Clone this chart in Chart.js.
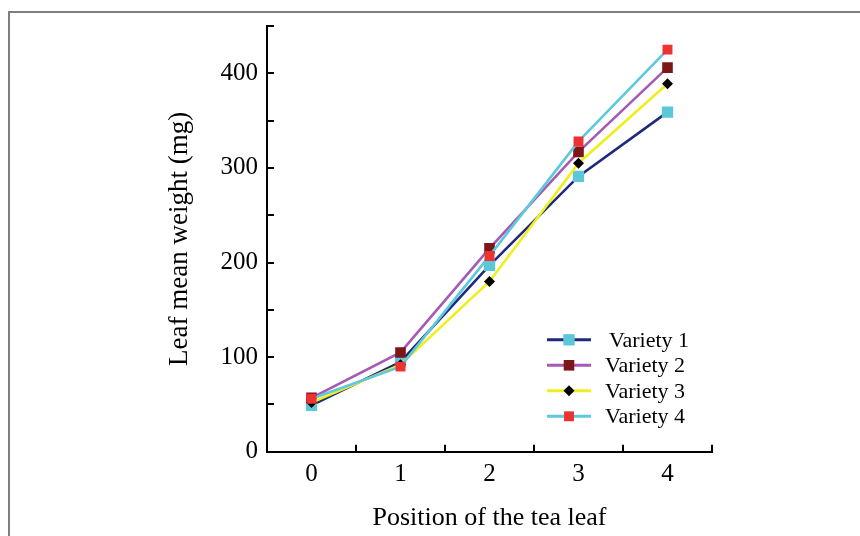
<!DOCTYPE html>
<html>
<head>
<meta charset="utf-8">
<script src="https://cdn.jsdelivr.net/npm/chart.js@4.4.0/dist/chart.umd.min.js"></script>
<style>
  html, body { margin: 0; padding: 0; background: #fff; }
  #wrap { position: relative; width: 860px; height: 536px; }
  #wrap canvas { position: absolute; left: 0; top: 0; }
  #frame {
    position: absolute; left: 8px; top: 11px; right: 0; bottom: 0;
    border-top: 2px solid #7f7f7f; border-left: 2px solid #7f7f7f;
    pointer-events: none;
  }
</style>
</head>
<body>
<div id="wrap">
  <canvas id="leafChart" width="860" height="536"></canvas>
  <div id="frame"></div>
</div>
<script>
// --- data ---
const positions = ['0', '1', '2', '3', '4'];
const seriesNames = ['Variety 1', 'Variety 2', 'Variety 3', 'Variety 4'];
const variety1 = [49, 95, 197, 291, 359];
const variety2 = [57, 105, 215, 317, 406];
const variety3 = [52, 92, 180, 305, 389];
const variety4 = [56, 90, 207, 328, 425];
const yLabeled = [0, 100, 200, 300, 400];

const serif = "'Liberation Serif', 'DejaVu Serif', serif";

// ticks pointing into the plot, like the original
const innerTicks = {
  id: 'innerTicks',
  afterDraw(chart) {
    const { ctx, scales: { x, y } } = chart;
    ctx.save();
    ctx.strokeStyle = '#000';
    ctx.lineWidth = 2;
    ctx.beginPath();
    for (let v = y.min; v <= y.max; v += 50) {
      const py = Math.round(y.getPixelForValue(v));
      ctx.moveTo(x.left, py);
      ctx.lineTo(x.left + 7, py);
    }
    const half = (x.getPixelForValue(1) - x.getPixelForValue(0)) / 2;
    positions.forEach((p, i) => {
      const px = Math.round(x.getPixelForValue(i) + half);
      ctx.moveTo(px, y.bottom);
      ctx.lineTo(px, y.bottom - 7);
    });
    ctx.stroke();
    ctx.restore();
  }
};

// legend drawn inside the plot, bottom right
const insideLegend = {
  id: 'insideLegend',
  afterDraw(chart) {
    const { ctx, chartArea } = chart;
    const x0 = chartArea.right - 165;
    ctx.save();
    ctx.font = '22px ' + serif;
    ctx.textBaseline = 'middle';
    chart.data.datasets.forEach((ds, i) => {
      const yy = chartArea.bottom - 112 + i * 25.5;
      ctx.strokeStyle = ds.borderColor;
      ctx.lineWidth = 3;
      ctx.beginPath();
      ctx.moveTo(x0, yy);
      ctx.lineTo(x0 + 44, yy);
      ctx.stroke();
      ctx.fillStyle = ds.pointBackgroundColor;
      ctx.strokeStyle = ds.pointBackgroundColor;
      Chart.helpers.drawPoint(ctx, {
        pointStyle: ds.pointStyle,
        radius: ds.pointRadius,
        rotation: 0,
        borderWidth: 0
      }, x0 + 22, yy);
      ctx.fillStyle = '#000';
      ctx.fillText(ds.label, x0 + 58 + (i === 0 ? 4 : 0), yy + 1);
    });
    ctx.restore();
  }
};

const makeSet = (label, data, line, marker, style, radius, order) => ({
  label,
  data,
  borderColor: line,
  borderWidth: 2.6,
  pointBackgroundColor: marker,
  pointBorderColor: marker,
  pointBorderWidth: 0,
  pointStyle: style,
  pointRadius: radius,
  tension: 0,
  order
});

new Chart(document.getElementById('leafChart'), {
  type: 'line',
  data: {
    labels: positions,
    datasets: [
      makeSet(seriesNames[0], variety1, '#1f2a7a', '#5cc7d8', 'rect', 8, 3),
      makeSet(seriesNames[1], variety2, '#a55ab4', '#7d1616', 'rect', 7.5, 2),
      makeSet(seriesNames[2], variety3, '#f0ee1c', '#000000', 'rectRot', 5.5, 1),
      makeSet(seriesNames[3], variety4, '#5ccadc', '#ee3232', 'rect', 7, 0)
    ]
  },
  options: {
    responsive: false,
    animation: false,
    layout: { padding: { left: 150, right: 148, top: 26, bottom: 2 } },
    plugins: {
      legend: { display: false },
      tooltip: { enabled: false }
    },
    scales: {
      x: {
        offset: true,
        grid: { display: false, drawTicks: false },
        border: { display: true, color: '#000', width: 2 },
        ticks: {
          color: '#000',
          font: { family: serif, size: 25 },
          padding: 8
        },
        title: {
          display: true,
          text: 'Position of the tea leaf',
          color: '#000',
          font: { family: serif, size: 26 },
          padding: { top: 5, bottom: 0 }
        }
      },
      y: {
        min: 0,
        max: 450,
        grid: { display: false, drawTicks: false },
        border: { display: true, color: '#000', width: 2 },
        afterFit: scale => { scale.width = 117; },
        ticks: {
          stepSize: 50,
          color: '#000',
          font: { family: serif, size: 25 },
          padding: 9,
          callback: v => (yLabeled.includes(v) ? v : '')
        },
        title: {
          display: true,
          text: 'Leaf mean weight (mg)',
          color: '#000',
          font: { family: serif, size: 27 },
          padding: { top: 14, bottom: 0 }
        }
      }
    }
  },
  plugins: [innerTicks, insideLegend]
});
</script>
</body>
</html>
